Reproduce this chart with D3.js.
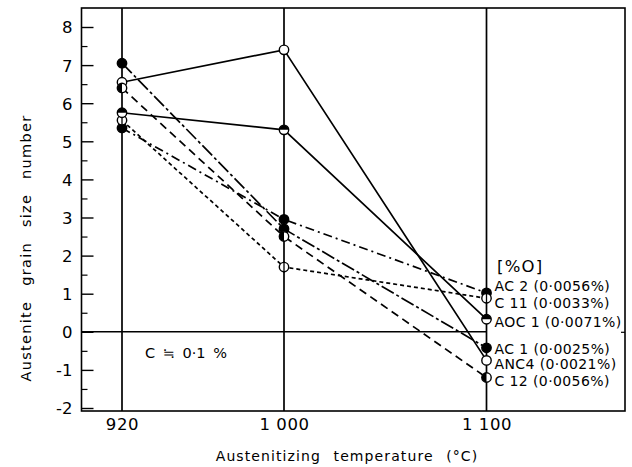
<!DOCTYPE html>
<html>
<head>
<meta charset="utf-8">
<script src="https://cdn.jsdelivr.net/npm/d3@7"></script>
<style>
  html, body { margin: 0; padding: 0; background: #fff; }
  svg { display: block; }
  text { font-family: "DejaVu Sans", "Liberation Sans", sans-serif; fill: #000; }
</style>
</head>
<body>
<svg id="chart" width="632" height="467"></svg>
<script>
// Austenitizing temperatures (°C) on the x axis
const temperatures = [920, 1000, 1100];

// Austenite grain size number for each steel
const seriesNames = ["AC 2", "C 11", "AOC 1", "AC 1", "ANC4", "C 12"];
const seriesContents = ["(0·0056%)", "(0·0033%)", "(0·0071%)", "(0·0025%)", "(0·0021%)", "(0·0056%)"];
const valuesAC2  = [5.35, 2.95, 1.02];
const valuesC11  = [5.55, 1.70, 0.88];
const valuesAOC1 = [5.75, 5.30, 0.33];
const valuesAC1  = [7.05, 2.70, -0.42];
const valuesANC4 = [6.55, 7.40, -0.75];
const valuesC12  = [6.40, 2.50, -1.20];

const yTicks = [-2, -1, 0, 1, 2, 3, 4, 5, 6, 7, 8];
const yTickLabels = ["-2", "-1", "0", "1", "2", "3", "4", "5", "6", "7", "8"];
const xTickLabels = ["920", "1 000", "1 100"];

const allValues = [valuesAC2, valuesC11, valuesAOC1, valuesAC1, valuesANC4, valuesC12];

// drawing styles per series (line dash + marker type)
const styles = [
  { dash: "9,4,2,4",  marker: "filled" },
  { dash: "4,3",      marker: "bar" },
  { dash: null,       marker: "halfTop" },
  { dash: "14,3,3,3", marker: "filled" },
  { dash: null,       marker: "open" },
  { dash: "8,5",      marker: "halfLeft" }
];
// small vertical nudges so end labels do not collide
const labelNudge = [-7, 5, 3, 1, 4, 3];

const svg = d3.select("#chart");

const frame = { left: 81.5, right: 625, top: 8, bottom: 411 };
const x = d3.scaleLinear().domain([900, 1168]).range([81.5, 624.2]);
const y = d3.scaleLinear().domain([-2, 8]).range([408, 27]);

// plot frame
svg.append("rect")
  .attr("x", frame.left).attr("y", frame.top)
  .attr("width", frame.right - frame.left).attr("height", frame.bottom - frame.top)
  .attr("fill", "none").attr("stroke", "#000").attr("stroke-width", 1.6);

// vertical guide lines at each temperature
svg.selectAll("line.vguide").data(temperatures).enter().append("line")
  .attr("class", "vguide")
  .attr("x1", d => x(d)).attr("x2", d => x(d))
  .attr("y1", frame.top).attr("y2", frame.bottom)
  .attr("stroke", "#000").attr("stroke-width", 1.7);

// zero line
svg.append("line")
  .attr("x1", frame.left).attr("x2", x(1100))
  .attr("y1", y(0)).attr("y2", y(0))
  .attr("stroke", "#000").attr("stroke-width", 1.4);

// left axis: major ticks with labels, minor ticks at halves
const yAxis = d3.axisRight(y)
  .tickValues(yTicks)
  .tickSize(12)
  .tickFormat((d, i) => yTickLabels[i]);
const gY = svg.append("g").attr("transform", `translate(${frame.left},0)`).call(yAxis);
gY.select(".domain").remove();
gY.selectAll(".tick line").attr("stroke", "#000").attr("stroke-width", 1.4);
gY.selectAll(".tick text")
  .attr("x", -9).attr("text-anchor", "end")
  .attr("font-size", 16.5).attr("dy", "0.36em");

const minorTicks = d3.range(-1.5, 8, 1);
const yMinor = d3.axisRight(y).tickValues(minorTicks).tickSize(6).tickFormat("");
const gYm = svg.append("g").attr("transform", `translate(${frame.left},0)`).call(yMinor);
gYm.select(".domain").remove();
gYm.selectAll(".tick line").attr("stroke", "#000").attr("stroke-width", 1.2);

// small tick on the right border
const yRight = d3.axisLeft(y).tickValues([0]).tickSize(4).tickFormat("");
const gYr = svg.append("g").attr("transform", `translate(${frame.right},0)`).call(yRight);
gYr.select(".domain").remove();
gYr.selectAll(".tick line").attr("stroke", "#000").attr("stroke-width", 1.2);

// bottom axis labels
const xAxis = d3.axisBottom(x).tickValues(temperatures).tickSize(0)
  .tickFormat((d, i) => xTickLabels[i]);
const gX = svg.append("g").attr("transform", `translate(0,${frame.bottom})`).call(xAxis);
gX.select(".domain").remove();
gX.selectAll(".tick text").attr("y", 7).attr("font-size", 16.5).attr("dy", "0.71em")
  .attr("letter-spacing", 0.6);

// axis titles
svg.append("text")
  .attr("x", 347).attr("y", 461)
  .attr("text-anchor", "middle").attr("font-size", 14)
  .attr("letter-spacing", 1.1).attr("word-spacing", 7)
  .text("Austenitizing temperature (°C)");

svg.append("text")
  .attr("transform", "translate(31,248) rotate(-90)")
  .attr("text-anchor", "middle").attr("font-size", 14.5)
  .attr("letter-spacing", 1.3).attr("word-spacing", 9)
  .text("Austenite grain size number");

// series lines
const line = d3.line().x((d, i) => x(temperatures[i])).y(d => y(d));
svg.selectAll("path.series").data(allValues).enter().append("path")
  .attr("class", "series")
  .attr("d", d => line(d))
  .attr("fill", "none").attr("stroke", "#000").attr("stroke-width", 1.7)
  .attr("stroke-dasharray", (d, i) => styles[i].dash);

// markers
const r = 4.7;
allValues.forEach((vals, si) => {
  const kind = styles[si].marker;
  vals.forEach((v, i) => {
    const g = svg.append("g").attr("transform", `translate(${x(temperatures[i])},${y(v)})`);
    g.append("circle").attr("r", r)
      .attr("fill", kind === "filled" ? "#000" : "#fff")
      .attr("stroke", "#000").attr("stroke-width", 1.4);
    if (kind === "halfTop") {
      g.append("path").attr("d", `M${-r},0 A${r},${r} 0 0 1 ${r},0 Z`).attr("fill", "#000");
    } else if (kind === "halfLeft") {
      g.append("path").attr("d", `M0,${-r} A${r},${r} 0 0 0 0,${r} Z`).attr("fill", "#000");
    } else if (kind === "bar") {
      g.append("line").attr("x1", 0).attr("x2", 0).attr("y1", -r - 1).attr("y2", r + 1)
        .attr("stroke", "#000").attr("stroke-width", 1.3);
    }
  });
});

// end labels
allValues.forEach((vals, si) => {
  svg.append("text")
    .attr("x", x(1100) + 8)
    .attr("y", y(vals[2]) + labelNudge[si])
    .attr("dy", "0.36em")
    .attr("font-size", 14)
    .attr("letter-spacing", 0.4)
    .text(seriesNames[si] + " " + seriesContents[si]);
});

// annotations
svg.append("text").attr("x", 497).attr("y", 272).attr("font-size", 16.5)
  .attr("letter-spacing", 1.2).text("[%O]");
svg.append("text").attr("x", 145).attr("y", 358).attr("font-size", 14.5)
  .attr("word-spacing", 3).text("C ≒ 0·1 %");
</script>
</body>
</html>
